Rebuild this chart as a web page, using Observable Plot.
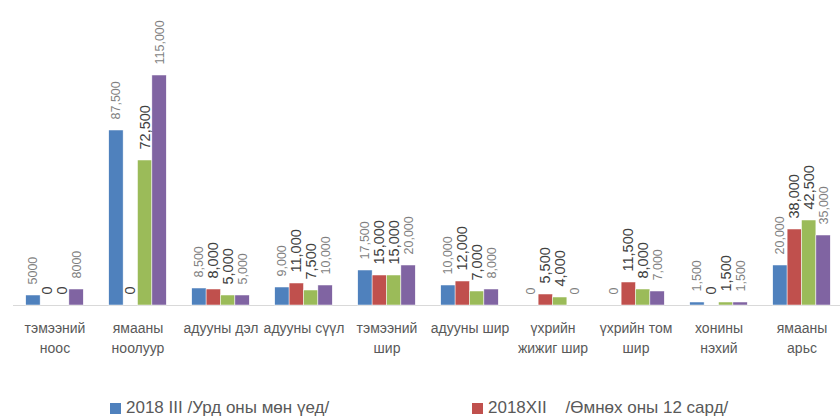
<!DOCTYPE html>
<html>
<head>
<meta charset="utf-8">
<script src="https://cdn.jsdelivr.net/npm/d3@7"></script>
<script src="https://cdn.jsdelivr.net/npm/@observablehq/plot@0.6"></script>
<style>
  html, body { margin: 0; padding: 0; background: #fff; overflow: hidden; }
  #wrap { position: relative; width: 840px; height: 417px; overflow: hidden; font-family: "Liberation Sans", Arial, sans-serif; }
  #legend { position: absolute; left: 0; top: 392px; width: 840px; height: 25px; font-size: 17px; color: #595959; }
  .item { position: absolute; top: 6px; white-space: pre; display: flex; align-items: center; }
  .sw { display: inline-block; width: 11px; height: 11px; margin-right: 5px; }
</style>
</head>
<body>
<div id="wrap"><div id="chart"></div><div id="legend"></div></div>
<script>
const categories = ["тэмээний\nноос", "ямааны\nноолуур", "адууны дэл", "адууны сүүл", "тэмээний\nшир", "адууны шир", "үхрийн\nжижиг шир", "үхрийн том\nшир", "хонины\nнэхий", "ямааны\nарьс"];
const seriesNames = ["2018 III /Урд оны мөн үед/", "2018XII    /Өмнөх оны 12 сард/", "Цуврал 3", "Цуврал 4"];
const seriesColors = ["#4f81bd", "#c0504d", "#9bbb59", "#8064a2"];
const s1 = [5000, 87500, 8500, 9000, 17500, 10000, 0, 0, 1500, 20000];
const s2 = [0, 0, 8000, 11000, 15000, 12000, 5500, 11500, 0, 38000];
const s3 = [0, 72500, 5000, 7500, 15000, 7000, 4000, 8000, 1500, 42500];
const s4 = [8000, 115000, 5000, 10000, 20000, 8000, 0, 7000, 1500, 35000];
const legendShown = [0, 1];

const allSeries = [s1, s2, s3, s4];
const comma = d3.format(",");
const data = [];
categories.forEach((c, i) => {
  allSeries.forEach((s, k) => {
    data.push({category: c, series: seriesNames[k], k, value: s[i], label: i === 0 ? String(s[i]) : comma(s[i])});
  });
});

const light = data.filter(d => d.k === 0 || d.k === 3);
const dark = data.filter(d => d.k === 1 || d.k === 2);

const chart = Plot.plot({
  width: 840,
  height: 392,
  marginLeft: 8,
  marginRight: -7,
  marginTop: 0,
  marginBottom: 87,
  style: {fontFamily: "Liberation Sans, Arial, sans-serif", background: "white"},
  fx: {domain: categories, padding: 0, label: null},
  x: {domain: seriesNames, paddingInner: 0, paddingOuter: 0.886, round: false, axis: null},
  y: {domain: [0, 115000], range: [305, 75], axis: null},
  color: {domain: seriesNames, range: seriesColors},
  marks: [
    Plot.ruleY([0], {stroke: "#d9d9d9", strokeWidth: 1}),
    Plot.barY(data, {fx: "category", x: "series", y: "value", fill: "series", stroke: "white", strokeWidth: 0.5}),
    Plot.text(light, {fx: "category", x: "series", y: "value", text: "label", rotate: -90, textAnchor: "start", dy: -11, fontSize: 12.5, fill: "#7f7f7f"}),
    Plot.text(dark, {fx: "category", x: "series", y: "value", text: "label", rotate: -90, textAnchor: "start", dy: -11, fontSize: 14.5, fill: "#404040"}),
    Plot.axisFx({anchor: "bottom", tickSize: 0, tickPadding: 14, fontSize: 14, lineHeight: 1.4, fill: "#595959", label: null})
  ]
});
document.getElementById("chart").appendChild(chart);

const legend = document.getElementById("legend");
const lefts = [110, 472];
legendShown.forEach((k, j) => {
  const it = document.createElement("div");
  it.className = "item";
  it.style.left = lefts[j] + "px";
  it.innerHTML = `<span class="sw" style="background:${seriesColors[k]}"></span><span>${seriesNames[k]}</span>`;
  legend.appendChild(it);
});
</script>
</body>
</html>
